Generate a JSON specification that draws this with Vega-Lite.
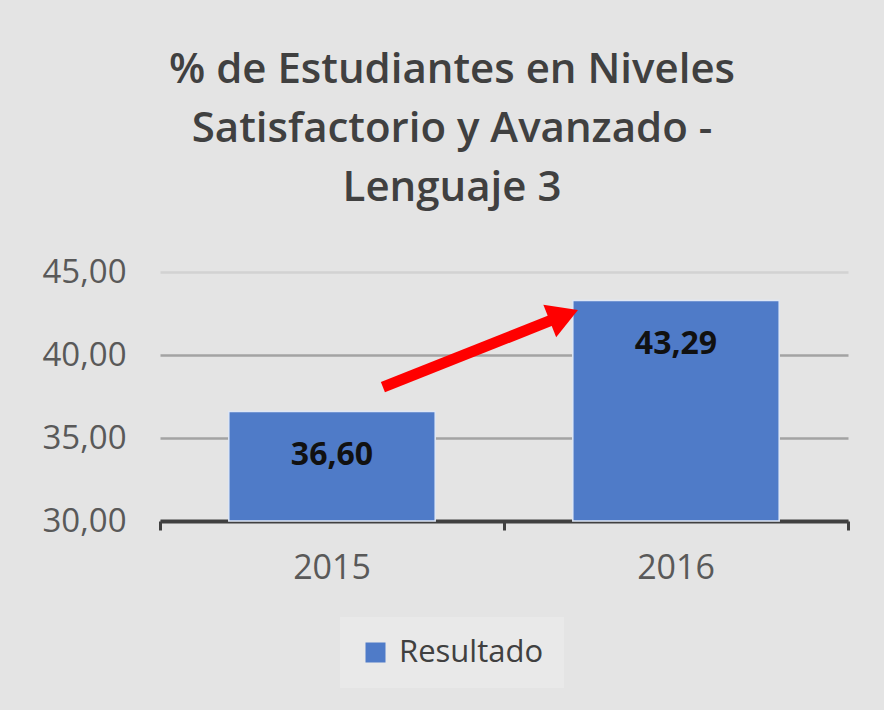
{
  "$schema": "https://vega.github.io/schema/vega-lite/v6.json",
  "width": 688,
  "height": 249,
  "autosize": {"type": "none"},
  "padding": {"left": 160, "top": 272, "right": 36, "bottom": 189},
  "background": "#e4e4e4",
  "config": {
    "view": {"stroke": null},
    "locale": {"number": {"decimal": ",", "thousands": ".", "grouping": [3], "currency": ["", " €"]}},
    "font": "Open Sans"
  },
  "title": {
    "text": ["% de Estudiantes en Niveles", "Satisfactorio y Avanzado -", "Lenguaje 3"],
    "font": "Open Sans",
    "fontSize": 42,
    "fontWeight": 600,
    "color": "#404040",
    "lineHeight": 59,
    "anchor": "middle",
    "dx": -52,
    "offset": 46
  },
  "datasets": {
    "bars": [
      {"Año": "2015", "Valor": 36.60, "Serie": "Resultado"},
      {"Año": "2016", "Valor": 43.29, "Serie": "Resultado"}
    ],
    "shaft": [{"x": 0.648, "y": 38.07, "x2": 1.14, "y2": 42.11}],
    "head": [{"x": 1.174, "y": 42.38}]
  },
  "layer": [
    {
      "data": {"name": "bars"},
      "layer": [
        {
          "mark": {"type": "bar", "stroke": "#dfe7f5", "strokeWidth": 1.5},
          "encoding": {
            "x": {
              "field": "Año", "type": "nominal",
              "scale": {"paddingInner": 0.4, "paddingOuter": 0.2},
              "axis": {"title": null, "domain": false, "ticks": false, "labelAngle": 0, "labelFontSize": 34, "labelColor": "#595959", "labelPadding": 30}
            },
            "y": {
              "field": "Valor", "type": "quantitative",
              "scale": {"domain": [30, 45], "nice": false, "zero": false},
              "axis": {
                "title": null, "values": [30, 35, 40, 45], "format": ".2f",
                "labelFontSize": 33, "labelColor": "#595959", "labelPadding": 34,
                "ticks": false, "domain": false,
                "grid": true, "gridWidth": 2.5,
                "gridColor": {"condition": {"test": "datum.value == 45", "value": "#d2d2d2"}, "value": "#a3a3a3"}
              }
            },
            "y2": {"datum": 30},
            "color": {
              "field": "Serie", "type": "nominal",
              "scale": {"range": ["#4f7bc8"]},
              "legend": {
                "title": null, "orient": "none", "legendX": 180, "legendY": 345,
                "symbolType": "square", "symbolSize": 400, "symbolStrokeWidth": 0,
                "labelFontSize": 31, "labelColor": "#404040", "labelOffset": 8,
                "fillColor": "#e9e9e9", "padding": 20
              }
            }
          }
        },
        {
          "mark": {"type": "text", "fontWeight": "bold", "fontSize": 32, "color": "#111111", "dy": 44, "baseline": "middle"},
          "encoding": {
            "x": {
              "field": "Año", "type": "nominal",
              "axis": {"title": null, "domain": false, "ticks": false, "labelAngle": 0, "labelFontSize": 34, "labelColor": "#595959", "labelPadding": 30}
            },
            "y": {
              "field": "Valor", "type": "quantitative",
              "axis": {
                "title": null, "values": [30, 35, 40, 45], "format": ".2f",
                "labelFontSize": 33, "labelColor": "#595959", "labelPadding": 34,
                "ticks": false, "domain": false,
                "grid": true, "gridWidth": 2.5,
                "gridColor": {"condition": {"test": "datum.value == 45", "value": "#d2d2d2"}, "value": "#a3a3a3"}
              }
            },
            "text": {"field": "Valor", "type": "quantitative", "format": ".2f"}
          }
        }
      ]
    },
    {
      "layer": [
        {
          "data": {"name": "shaft"},
          "mark": {"type": "rule", "color": "#ff0000", "strokeWidth": 11, "strokeCap": "butt"},
          "encoding": {
            "x": {
              "field": "x", "type": "quantitative",
              "scale": {"domain": [0, 2], "nice": false, "zero": false},
              "axis": {"orient": "bottom", "title": null, "values": [0, 1, 2], "labels": false, "grid": false, "domain": true, "domainColor": "#404040", "domainWidth": 4, "ticks": true, "tickColor": "#404040", "tickWidth": 3, "tickSize": 9}
            },
            "y": {
              "field": "y", "type": "quantitative",
              "axis": {
                "title": null, "values": [30, 35, 40, 45], "format": ".2f",
                "labelFontSize": 33, "labelColor": "#595959", "labelPadding": 34,
                "ticks": false, "domain": false,
                "grid": true, "gridWidth": 2.5,
                "gridColor": {"condition": {"test": "datum.value == 45", "value": "#d2d2d2"}, "value": "#a3a3a3"}
              }
            },
            "x2": {"field": "x2"},
            "y2": {"field": "y2"}
          }
        },
        {
          "data": {"name": "head"},
          "mark": {"type": "point", "shape": "triangle-up", "filled": true, "color": "#ff0000", "size": 1225, "angle": 68.5, "opacity": 1, "strokeWidth": 0},
          "encoding": {
            "x": {
              "field": "x", "type": "quantitative",
              "axis": {"orient": "bottom", "title": null, "values": [0, 1, 2], "labels": false, "grid": false, "domain": true, "domainColor": "#404040", "domainWidth": 4, "ticks": true, "tickColor": "#404040", "tickWidth": 3, "tickSize": 9}
            },
            "y": {
              "field": "y", "type": "quantitative",
              "axis": {
                "title": null, "values": [30, 35, 40, 45], "format": ".2f",
                "labelFontSize": 33, "labelColor": "#595959", "labelPadding": 34,
                "ticks": false, "domain": false,
                "grid": true, "gridWidth": 2.5,
                "gridColor": {"condition": {"test": "datum.value == 45", "value": "#d2d2d2"}, "value": "#a3a3a3"}
              }
            }
          }
        }
      ]
    }
  ],
  "resolve": {"scale": {"x": "independent"}}
}
